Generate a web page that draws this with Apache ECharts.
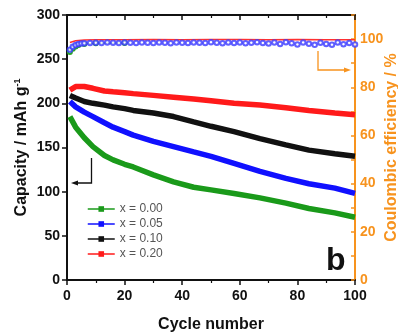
<!DOCTYPE html>
<html>
<head>
<meta charset="utf-8">
<script src="https://cdn.jsdelivr.net/npm/echarts@6/dist/echarts.min.js"></script>
<style>
  html, body { margin: 0; padding: 0; background: #fff; }
  #main { width: 398px; height: 332px; }
</style>
</head>
<body>
<div id="main"></div>
<script>
  // capacity data
  const cycles = [1, 3, 6, 9, 13, 16, 20, 23, 30, 37, 44, 50, 58, 67, 76, 84, 93, 100];
  const capX000 = [185, 173, 161, 151, 141, 136, 131, 128, 119, 111, 105, 102, 98, 93, 87, 81, 76, 71];
  const capX005 = [202, 196, 190, 185, 178, 173, 168, 164, 157, 151, 145, 140, 132, 123, 115, 109, 104, 98];
  const capX010 = [209, 206, 202, 200, 198, 196, 194, 192, 189, 185, 179, 174, 168, 160, 153, 147, 143, 140];
  const capX020 = [215, 219, 219, 217, 214, 213, 212, 211, 209, 207, 205, 203, 200, 198, 195, 192, 189, 187];

  // coulombic efficiency (%)
  const ceCyclesBlue = [1, 2, 3, 4, 5, 6, 8, 10, 12, 14, 16, 18, 20, 22, 24, 26, 28, 30, 32, 34, 36, 38, 40,
    42, 44, 46, 48, 50, 52, 54, 56, 58, 60, 62, 64, 66, 68, 70, 72, 74, 76, 78, 80, 82, 84, 86, 88, 90, 92, 94, 96, 98, 100];
  const ceBlue = [95.6, 96.8, 97.5, 98.0, 98.2, 98.3, 98.4, 98.5, 98.4, 98.6, 98.5, 98.4, 98.6, 98.5, 98.4, 98.6, 98.5, 98.4, 98.6, 98.5,
    98.3, 98.6, 98.5, 98.4, 98.6, 98.5, 98.4, 98.7, 98.5, 98.3, 98.6, 98.4, 98.6, 98.3, 98.5, 98.7, 98.4, 98.2, 98.6, 98.0, 98.7, 98.3,
    97.8, 98.6, 98.1, 97.6, 98.5, 98.0, 97.7, 98.6, 97.9, 98.4, 97.8];
  const ceCyclesRed = [1, 3, 6, 10, 20, 30, 40, 50, 60, 70, 80, 90, 100];
  const ceRed = [98.6, 99.3, 99.6, 99.7, 99.7, 99.8, 99.7, 99.8, 99.8, 99.7, 99.8, 99.7, 99.7];
  const ceCyclesGreen = [1, 2, 3, 4, 6, 10, 20];
  const ceGreen = [94.6, 96.0, 96.9, 97.5, 98.0, 98.3, 98.4];

  const legendNames = ['x = 0.00', 'x = 0.05', 'x = 0.10', 'x = 0.20'];
  const colors = ['#1a9a1a', '#1010ff', '#111111', '#ff1a1a'];
  const orange = '#f7931e';
  const font = 'Arial, "Liberation Sans", sans-serif';

  const pair = (xs, ys) => xs.map((c, i) => [c, ys[i]]);
  const capSeries = [capX000, capX005, capX010, capX020].map((d, i) => ({
    name: legendNames[i],
    type: 'line',
    xAxisIndex: 0,
    yAxisIndex: 0,
    symbol: 'rect',
    symbolSize: 6,
    showSymbol: false,
    z: 3,
    lineStyle: { width: 5.5, color: colors[i] },
    itemStyle: { color: colors[i] },
    data: pair(cycles, d),
  }));

  var myChart = echarts.init(document.getElementById('main'));
  const option = {
    animation: false,
    grid: { left: 67, right: 43, top: 15, bottom: 52, outerBoundsMode: 'none', containLabel: false },
    legend: {
      data: legendNames,
      orient: 'vertical',
      left: 87,
      top: 203,
      padding: 0,
      itemGap: 3,
      itemWidth: 27,
      itemHeight: 7,
      lineStyle: { width: 1.5 },
      textStyle: { fontFamily: font, fontSize: 12, color: '#555' },
    },
    xAxis: [
      {
        type: 'value',
        min: 0,
        max: 100,
        interval: 20,
        position: 'bottom',
        name: 'Cycle number',
        nameLocation: 'middle',
        nameGap: 37,
        nameMoveOverlap: false,
        nameTextStyle: { fontFamily: font, fontSize: 16, fontWeight: 'bold', color: '#111' },
        axisLine: { onZero: false, lineStyle: { color: '#111', width: 2 } },
        axisTick: { inside: false, length: 5, lineStyle: { color: '#111', width: 1.5 } },
        minorTick: { show: true, splitNumber: 2, length: 3, lineStyle: { color: '#111', width: 1.2 } },
        axisLabel: { fontFamily: font, fontSize: 14, fontWeight: 'bold', color: '#111', margin: 9 },
        splitLine: { show: false },
      },
      {
        type: 'value',
        min: 0,
        max: 100,
        interval: 20,
        position: 'top',
        axisLine: { onZero: false, lineStyle: { color: '#111', width: 2 } },
        axisTick: { inside: true, length: 5, lineStyle: { color: '#111', width: 1.5 } },
        minorTick: { show: true, splitNumber: 2, length: 3, lineStyle: { color: '#111', width: 1.2 } },
        axisLabel: { show: false },
        splitLine: { show: false },
      },
    ],
    yAxis: [
      {
        type: 'value',
        min: 0,
        max: 300,
        interval: 50,
        position: 'left',
        name: 'Capacity / mAh g{sup|-1}',
        nameLocation: 'middle',
        nameGap: 37,
        nameMoveOverlap: false,
        nameTextStyle: {
          fontFamily: font, fontSize: 16, fontWeight: 'bold', color: '#111',
          rich: { sup: { fontFamily: font, fontSize: 9, fontWeight: 'bold', color: '#111', verticalAlign: 'top', padding: [0, 0, 8, 0] } },
        },
        axisLine: { show: true, onZero: false, lineStyle: { color: '#111', width: 2 } },
        axisTick: { show: true, inside: false, length: 5, lineStyle: { color: '#111', width: 1.5 } },
        axisLabel: { fontFamily: font, fontSize: 14, fontWeight: 'bold', color: '#111', margin: 7 },
        splitLine: { show: false },
      },
      {
        type: 'value',
        min: 0,
        max: 110,
        interval: 10,
        position: 'right',
        name: 'Coulombic efficiency / %',
        nameLocation: 'middle',
        nameGap: 29,
        nameMoveOverlap: false,
        nameTextStyle: { fontFamily: font, fontSize: 16, fontWeight: 'bold', color: orange },
        axisLine: { show: true, onZero: false, lineStyle: { color: orange, width: 2 } },
        axisTick: { show: true, inside: true, length: 4, lineStyle: { color: orange, width: 1.5 } },
        axisLabel: {
          fontFamily: font, fontSize: 14, fontWeight: 'bold', color: orange, margin: 5,
          formatter: (v) => (v % 20 === 0 && v <= 100 ? String(v) : ''),
        },
        splitLine: { show: false },
      },
    ],
    graphic: [
      // black arrow pointing to left axis
      { type: 'polyline', z: 10, shape: { points: [[91.5, 158], [91.5, 183], [76, 183]] }, style: { stroke: '#111', lineWidth: 1.3, fill: null } },
      { type: 'polygon', z: 10, shape: { points: [[71, 183], [78, 180.5], [78, 185.5]] }, style: { fill: '#111' } },
      // orange arrow pointing to right axis
      { type: 'polyline', z: 10, shape: { points: [[318, 51], [318, 70], [345, 70]] }, style: { stroke: orange, lineWidth: 1.3, fill: null } },
      { type: 'polygon', z: 10, shape: { points: [[351, 70], [344, 67.5], [344, 72.5]] }, style: { fill: orange } },
      { type: 'text', z: 10, left: 326, top: 245, style: { text: 'b', font: 'bold 32px ' + font, fill: '#111' } },
    ],
    series: capSeries.concat([
      {
        name: 'ce red',
        type: 'line',
        yAxisIndex: 1,
        showSymbol: false,
        z: 2,
        lineStyle: { width: 1.5, color: '#ff3030' },
        data: pair(ceCyclesRed, ceRed),
      },
      {
        name: 'ce green',
        type: 'line',
        yAxisIndex: 1,
        symbol: 'emptyCircle',
        symbolSize: 4,
        z: 2,
        lineStyle: { width: 1, color: '#2aa52a' },
        itemStyle: { color: '#2aa52a', borderWidth: 1 },
        data: pair(ceCyclesGreen, ceGreen),
      },
      {
        name: 'ce blue',
        type: 'scatter',
        yAxisIndex: 1,
        symbol: 'emptyCircle',
        symbolSize: 4.5,
        z: 2,
        itemStyle: { color: '#3a3aff', borderColor: '#3a3aff', borderWidth: 1.2 },
        data: pair(ceCyclesBlue, ceBlue),
      },
    ]),
  };
  myChart.setOption(option);
</script>
</body>
</html>
